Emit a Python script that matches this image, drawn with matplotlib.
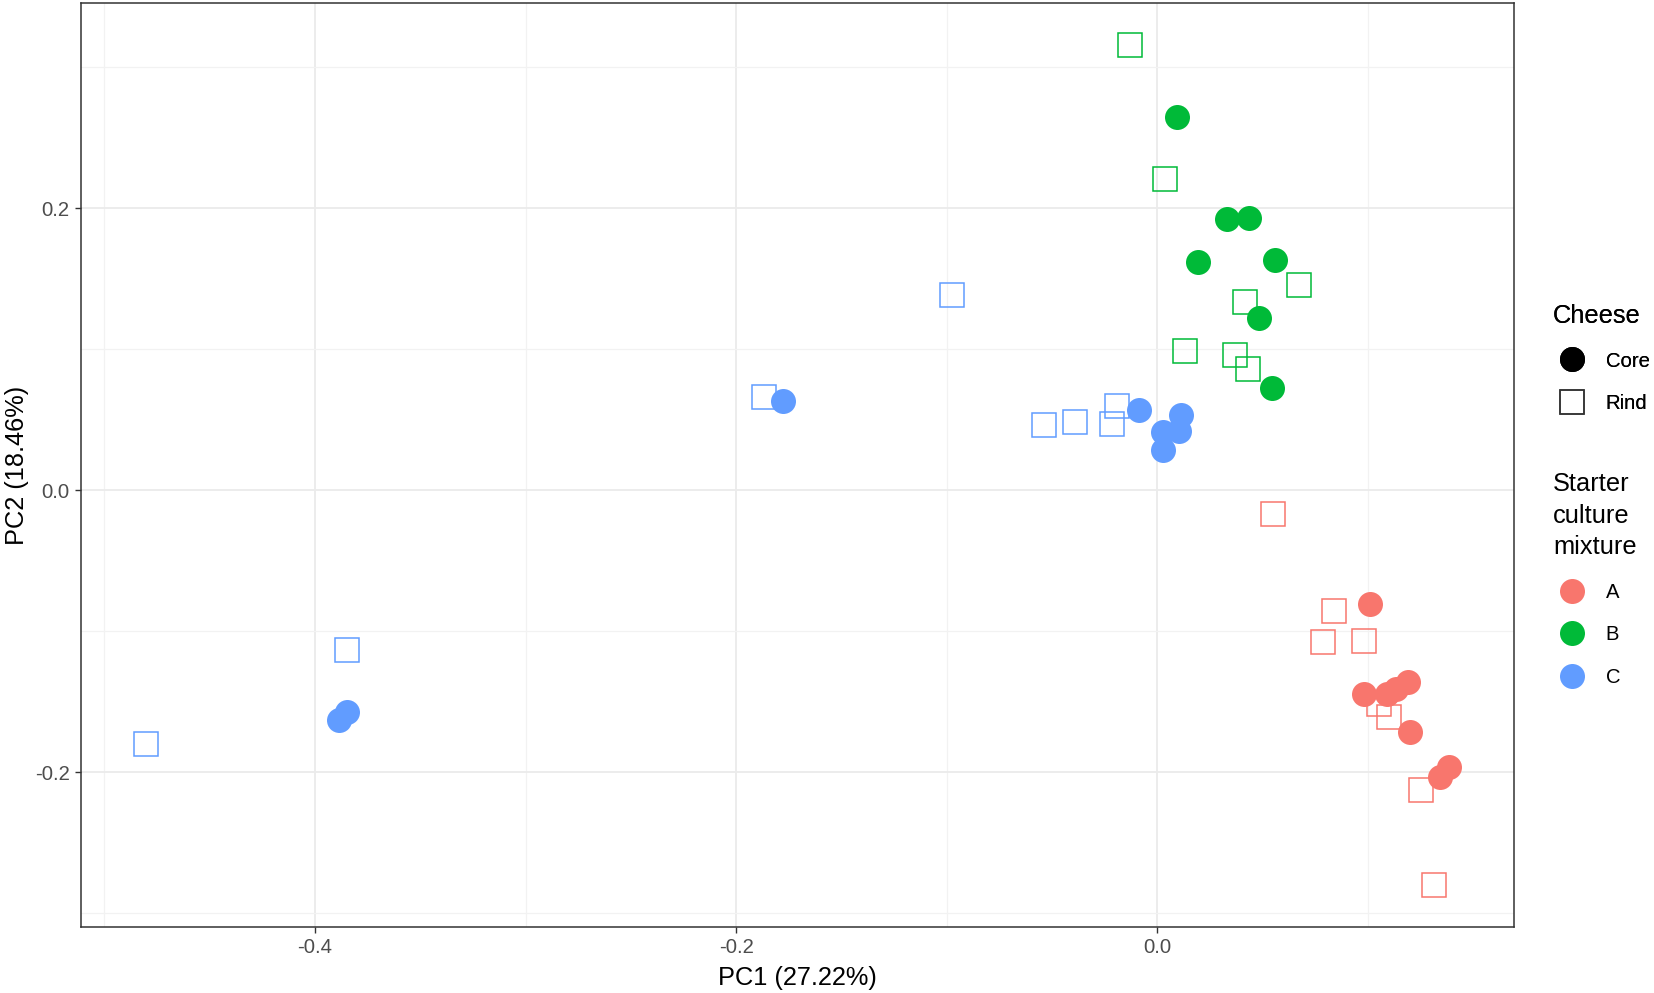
import matplotlib
matplotlib.use("Agg")
import matplotlib.pyplot as plt
from matplotlib.lines import Line2D
import numpy as np

plt.rcParams['font.family'] = ['Liberation Sans', 'DejaVu Sans']

groups = ["A", "B", "C"]
colors = {"A": "#F8766D", "B": "#00BA38", "C": "#619CFF"}

A_core_x = [0.1009, 0.0982, 0.1089, 0.1136, 0.1191, 0.1199, 0.1341, 0.1385]
A_core_y = [-0.0808, -0.1446, -0.1446, -0.1407, -0.1360, -0.1714, -0.2037, -0.1967]
A_rind_x = [0.0552, 0.0840, 0.0785, 0.0981, 0.1054, 0.1101, 0.1251, 0.1315]
A_rind_y = [-0.0166, -0.0858, -0.1080, -0.1073, -0.1520, -0.1612, -0.2127, -0.2801]

B_core_x = [0.0092, 0.0331, 0.0436, 0.0195, 0.0560, 0.0481, 0.0546]
B_core_y = [0.2647, 0.1923, 0.1930, 0.1620, 0.1631, 0.1225, 0.0724]
B_rind_x = [-0.0131, 0.0038, 0.0672, 0.0415, 0.0133, 0.0370, 0.0432]
B_rind_y = [0.3159, 0.2211, 0.1453, 0.1336, 0.0991, 0.0960, 0.0858]

C_core_x = [-0.1778, -0.0086, 0.0113, 0.0104, 0.0029, 0.0026, -0.3888, -0.3848]
C_core_y = [0.0634, 0.0569, 0.0535, 0.0421, 0.0410, 0.0286, -0.1629, -0.1577]
C_rind_x = [-0.4802, -0.3850, -0.1867, -0.0973, -0.0537, -0.0392, -0.0214, -0.0190]
C_rind_y = [-0.1798, -0.1131, 0.0662, 0.1386, 0.0461, 0.0485, 0.0473, 0.0599]

core = {"A": (A_core_x, A_core_y), "B": (B_core_x, B_core_y), "C": (C_core_x, C_core_y)}
rind = {"A": (A_rind_x, A_rind_y), "B": (B_rind_x, B_rind_y), "C": (C_rind_x, C_rind_y)}

x_ticks = [-0.4, -0.2, 0.0]
y_ticks = [-0.2, 0.0, 0.2]
x_ticklabels = ["-0.4", "-0.2", "0.0"]
y_ticklabels = ["-0.2", "0.0", "0.2"]
x_minor = [-0.5, -0.3, -0.1, 0.1]
y_minor = [-0.3, -0.1, 0.1, 0.3]

fig = plt.figure(figsize=(16.54, 9.93), dpi=100)
ax = fig.add_axes([81/1654, 1-927/993, (1514-81)/1654, (927-3)/993])

CIRC = 18
SQ = 17.3

for g in groups:
    x, y = rind[g]
    ax.plot(x, y, linestyle='none', marker='s', markersize=SQ,
            markerfacecolor='none', markeredgecolor=colors[g], markeredgewidth=1.1, zorder=3)
for g in groups:
    x, y = core[g]
    ax.plot(x, y, linestyle='none', marker='o', markersize=CIRC,
            markerfacecolor=colors[g], markeredgecolor=colors[g], markeredgewidth=0, zorder=4)

allx = np.concatenate([np.array(v[0]) for v in list(core.values()) + list(rind.values())])
ally = np.concatenate([np.array(v[1]) for v in list(core.values()) + list(rind.values())])
rx = allx.max() - allx.min()
ry = ally.max() - ally.min()
ax.set_xlim(allx.min() - 0.05*rx, allx.max() + 0.05*rx)
ax.set_ylim(ally.min() - 0.05*ry, ally.max() + 0.05*ry)

ax.set_xticks(x_ticks)
ax.set_xticklabels(x_ticklabels)
ax.set_yticks(y_ticks)
ax.set_yticklabels(y_ticklabels)
ax.set_xticks(x_minor, minor=True)
ax.set_yticks(y_minor, minor=True)

ax.grid(which='major', color='#EBEBEB', linewidth=1.3, zorder=0)
ax.grid(which='minor', color='#F2F2F2', linewidth=0.9, zorder=0)
ax.set_axisbelow(True)
ax.tick_params(which='minor', length=0)
ax.tick_params(which='major', length=4.5, width=1.0, color='#333333',
               labelsize=14.6, labelcolor='#4D4D4D', pad=3.6)
for s in ax.spines.values():
    s.set_color('#333333')
    s.set_linewidth(1.1)

ax.set_xlabel("PC1 (27.22%)", fontsize=18.3, color='black', labelpad=6)
ax.set_ylabel("PC2 (18.46%)", fontsize=18.3, color='black', labelpad=4.5)

# Legends
h_core = Line2D([], [], linestyle='none', marker='o', markersize=CIRC,
                markerfacecolor='black', markeredgecolor='black', markeredgewidth=0)
h_rind = Line2D([], [], linestyle='none', marker='s', markersize=SQ,
                markerfacecolor='none', markeredgecolor='#333333', markeredgewidth=1.1)
leg1 = fig.legend([h_core, h_rind], ["Core", "Rind"], title="Cheese",
                  loc='upper left', bbox_to_anchor=(1553/1654, 1-304/993),
                  frameon=False, fontsize=14.6, title_fontsize=18.3,
                  alignment='left', borderpad=0, handlelength=1.92,
                  handletextpad=0.67, labelspacing=1.16, borderaxespad=0)

hs = [Line2D([], [], linestyle='none', marker='o', markersize=CIRC,
             markerfacecolor=colors[g], markeredgecolor=colors[g], markeredgewidth=0)
      for g in groups]
leg2 = fig.legend(hs, groups, title="Starter\nculture\nmixture",
                  loc='upper left', bbox_to_anchor=(1553/1654, 1-472/993),
                  frameon=False, fontsize=14.6, title_fontsize=18.3,
                  alignment='left', borderpad=0, handlelength=1.92,
                  handletextpad=0.67, labelspacing=1.16, borderaxespad=0)
leg2.get_title().set_linespacing(1.4)
fig.add_artist(leg1)

fig.savefig("out.png", dpi=100)
